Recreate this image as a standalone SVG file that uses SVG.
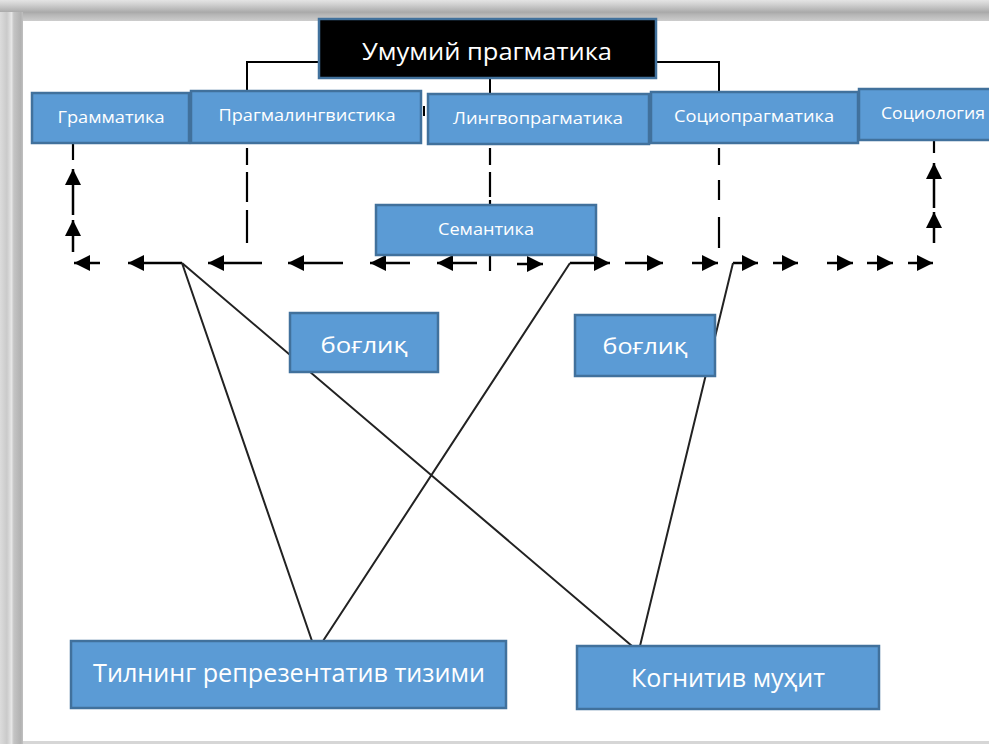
<svg xmlns="http://www.w3.org/2000/svg" width="989" height="744" viewBox="0 0 989 744">
<defs>
<style>
.box{fill:#5b9bd5;stroke:#41719c;stroke-width:2.5}
.top{fill:#000;stroke:#41719c;stroke-width:2.5}
.t{fill:#fff;font-family:"Open Sans","Liberation Sans",sans-serif;text-anchor:middle}
.s{font-size:16px}
.b{font-size:22px}
.l{font-size:25px}
.ln{stroke:#000;stroke-width:2;fill:none}
.ar{stroke:#000;stroke-width:2.5;fill:none;marker-end:url(#ah)}
.dl{stroke:#000;stroke-width:2.2;fill:none}
.dg{stroke:#222;stroke-width:2;fill:none}
</style>
<marker id="ah" markerUnits="userSpaceOnUse" markerWidth="16" markerHeight="16" viewBox="0 0 16 16" refX="16" refY="8" orient="auto">
<path d="M0,0 L16,8 L0,16 z" fill="#000"/>
</marker>
<linearGradient id="gt" x1="0" y1="0" x2="0" y2="1">
<stop offset="0" stop-color="#e4e4e4"/>
<stop offset="0.2" stop-color="#d2d2d2"/>
<stop offset="0.45" stop-color="#b8b8b8"/>
<stop offset="0.58" stop-color="#a9a9a9"/>
<stop offset="0.7" stop-color="#b6b6b6"/>
<stop offset="1" stop-color="#cdcdcd"/>
</linearGradient>
<linearGradient id="gl" x1="0" y1="0" x2="1" y2="0">
<stop offset="0" stop-color="#dcdcdc"/>
<stop offset="0.3" stop-color="#cacaca"/>
<stop offset="0.5" stop-color="#e6e6e6"/>
<stop offset="0.6" stop-color="#c4c4c4"/>
<stop offset="0.9" stop-color="#b2b2b2"/>
<stop offset="1" stop-color="#c0c0c0"/>
</linearGradient>
</defs>
<g id="frame">
<rect x="0" y="0" width="989" height="744" fill="#d6d6d6"/>
<rect x="0" y="0" width="989" height="21" fill="url(#gt)"/>
<rect x="0" y="12" width="23" height="732" fill="url(#gl)"/>
<rect x="23" y="21" width="970" height="720" fill="#fff"/>
</g>
<g id="connectors">
<path class="ln" d="M318,62 H247 V91 M656,62 H719 V92 M490,78 V94 M424,106 V116"/>
<path class="dl" d="M247,148 V165 M247,172 V202 M247,210 V243"/>
<path class="dl" d="M490,148 V165 M490,172 V197 M490,200 V230 M490,255 V271"/>
<path class="dl" d="M719,148 V165 M719,180 V200 M719,217 V248"/>
<path class="dl" d="M73,143 V160 M934,140 V153"/>
<line class="ar" x1="73" y1="252" x2="73" y2="220"/>
<line class="ar" x1="73" y1="215" x2="73" y2="169"/>
<line class="ar" x1="934" y1="243" x2="934" y2="212"/>
<line class="ar" x1="934" y1="208" x2="934" y2="163"/>
<line class="ar" x1="100" y1="263" x2="74" y2="263"/>
<line class="ar" x1="182" y1="263" x2="128" y2="263"/>
<line class="ar" x1="262" y1="263" x2="208" y2="263"/>
<line class="ar" x1="343" y1="263" x2="288" y2="263"/>
<line class="ar" x1="410" y1="263" x2="370" y2="263"/>
<line class="ar" x1="477" y1="263" x2="437" y2="263"/>
<line class="ar" x1="517" y1="264" x2="543" y2="264"/>
<line class="ar" x1="570" y1="263" x2="610" y2="263"/>
<line class="ar" x1="625" y1="263" x2="663" y2="263"/>
<line class="ar" x1="692" y1="263" x2="718" y2="263"/>
<line class="ar" x1="733" y1="263" x2="758" y2="263"/>
<line class="ar" x1="773" y1="263" x2="798" y2="263"/>
<line class="ar" x1="827" y1="263" x2="853" y2="263"/>
<line class="ar" x1="867" y1="263" x2="893" y2="263"/>
<line class="ar" x1="908" y1="263" x2="933" y2="263"/>
<path class="dg" d="M182,263 L312,641 M182,263 L632,646 M570,263 L323,641 M733,263 L640,646"/>
</g>
<g id="n-umumiy"><rect class="top" x="319" y="19" width="337" height="59"/><text class="t" x="487" y="60" font-size="24" textLength="250" lengthAdjust="spacingAndGlyphs">Умумий прагматика</text></g>
<g id="n-grammatika"><rect class="box" x="32" y="93" width="157" height="50"/><text class="t s" x="111" y="123" textLength="107" lengthAdjust="spacingAndGlyphs">Грамматика</text></g>
<g id="n-pragmaling"><rect class="box" x="191" y="91" width="230" height="52"/><text class="t s" x="307" y="121" textLength="177" lengthAdjust="spacingAndGlyphs">Прагмалингвистика</text></g>
<g id="n-lingvoprag"><rect class="box" x="428" y="94" width="221" height="50"/><text class="t s" x="538" y="124" textLength="170" lengthAdjust="spacingAndGlyphs">Лингвопрагматика</text></g>
<g id="n-socioprag"><rect class="box" x="651" y="92" width="207" height="51"/><text class="t s" x="754" y="122" textLength="160" lengthAdjust="spacingAndGlyphs">Социопрагматика</text></g>
<g id="n-sociologiya"><rect class="box" x="859" y="89" width="140" height="51"/><text class="t s" x="933" y="119" textLength="104" lengthAdjust="spacingAndGlyphs">Социология</text></g>
<g id="n-semantika"><rect class="box" x="376" y="205" width="220" height="50"/><text class="t s" x="486" y="235" textLength="96" lengthAdjust="spacingAndGlyphs">Семантика</text></g>
<g id="n-boglik1"><rect class="box" x="290" y="313" width="148" height="59"/><text class="t b" x="364" y="353" textLength="87" lengthAdjust="spacingAndGlyphs">боғлиқ</text></g>
<g id="n-boglik2"><rect class="box" x="575" y="315" width="140" height="61"/><text class="t b" x="645" y="354" textLength="85" lengthAdjust="spacingAndGlyphs">боғлиқ</text></g>
<g id="n-tilning"><rect class="box" x="71" y="641" width="435" height="67"/><text class="t l" x="289" y="682" textLength="392" lengthAdjust="spacingAndGlyphs">Тилнинг репрезентатив тизими</text></g>
<g id="n-kognitiv"><rect class="box" x="577" y="646" width="302" height="63"/><text class="t l" x="728" y="687" textLength="194" lengthAdjust="spacingAndGlyphs">Когнитив муҳит</text></g>
</svg>
